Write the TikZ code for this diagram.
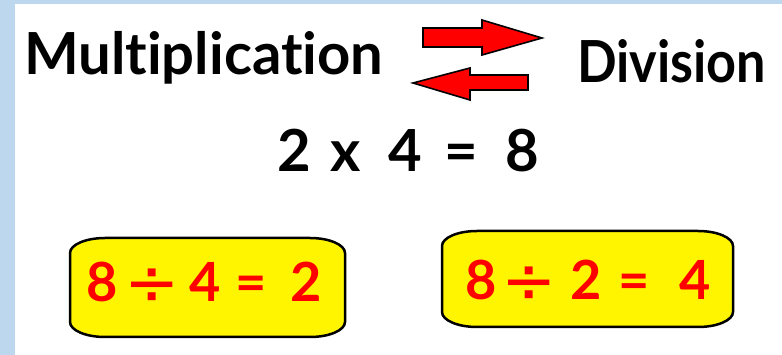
\documentclass[tikz,border=0pt]{standalone}
\usepackage{fontspec}
\setmainfont{Lato}[Ligatures=NoCommon]
\newfontfamily\signfont{DejaVu Sans}
\usetikzlibrary{positioning}
\definecolor{edgeblue}{RGB}{189,215,238}
\definecolor{boxyellow}{RGB}{255,245,0}
\definecolor{sumred}{RGB}{255,0,0}
\newcommand\divsign{\raisebox{-4pt}{\fontsize{66}{66}\signfont\mdseries ÷}}

\begin{document}
\begin{tikzpicture}[x=1pt,y=-1pt,
  word/.style={font=\fontsize{58}{60}\selectfont\bfseries,inner sep=0pt,anchor=base west},
  sumtext/.style={word,font=\fontsize{54}{58}\selectfont\bfseries,text=sumred},
  sumbox/.style={draw=black,line width=2.5pt,fill=boxyellow},
  swaparrow/.style={draw=black,line width=1.6pt,fill=sumred,line join=miter}]
\useasboundingbox (0,0) rectangle (782,355);
\fill[edgeblue] (0,0) rectangle (15,355);
\fill[edgeblue] (0,0) rectangle (782,4);
% top line
\node[word] (mult) at (24,75) {Multiplication};
\node[word] (divi) at (577,83) {\scalebox{0.9}[1]{Division}};
\filldraw[swaparrow] (423,28) -- (482,28) -- (482,20) -- (542,38) -- (482,55) -- (482,47) -- (423,47) -- cycle;
\filldraw[swaparrow] (528,75) -- (470,75) -- (470,68) -- (413,83) -- (470,100) -- (470,90) -- (528,90) -- cycle;
% the fact
\node[word] (prod) at (277,172) {2\hspace{20pt}x\hspace{27pt}4\hspace{23pt}=\hspace{27pt}8};
% the two divisions
\filldraw[sumbox] (70,253) arc[start angle=180,end angle=270,x radius=35,y radius=15]
  -- (310,238) arc[start angle=270,end angle=360,x radius=35,y radius=15]
  -- (345,322) arc[start angle=0,end angle=90,x radius=35,y radius=15]
  -- (105,337) arc[start angle=90,end angle=180,x radius=35,y radius=15] -- cycle;
\filldraw[sumbox] (442,246) arc[start angle=180,end angle=270,x radius=35,y radius=15]
  -- (698,231) arc[start angle=270,end angle=360,x radius=35,y radius=15]
  -- (733,312) arc[start angle=0,end angle=90,x radius=35,y radius=15]
  -- (477,327) arc[start angle=90,end angle=180,x radius=35,y radius=15] -- cycle;
\node[sumtext] (quotA) at (86,302) {8\hspace{7pt}\divsign\hspace{10pt}4\hspace{14pt}=\hspace{24pt}2};
\node[sumtext] (quotB) at (465,300) {8\hspace{5pt}\divsign\hspace{14pt}2\hspace{16pt}=\hspace{30pt}4};
\end{tikzpicture}
\end{document}
